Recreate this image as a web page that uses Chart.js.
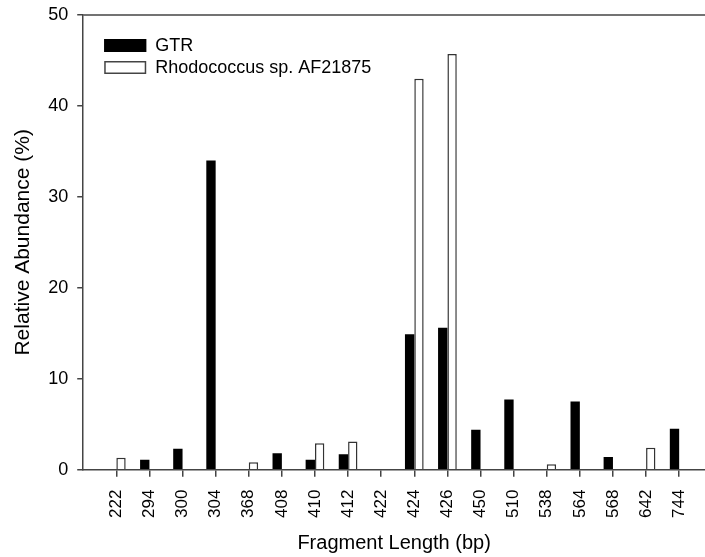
<!DOCTYPE html>
<html>
<head>
<meta charset="utf-8">
<script src="https://cdn.jsdelivr.net/npm/chart.js@4/dist/chart.umd.min.js"></script>
<style>
  html, body { margin: 0; padding: 0; background: #fff; }
  #wrap { width: 705px; height: 557px; }
</style>
</head>
<body>
<div id="wrap"><canvas id="bars" width="705" height="557"></canvas></div>
<script>
// fragment lengths (bp) on the x axis
var categories = ['222', '294', '300', '304', '368', '408', '410', '412', '422',
                  '424', '426', '450', '510', '538', '564', '568', '642', '744'];
// relative abundance (%)
var gtr   = [0, 1.1, 2.3, 34.0, 0, 1.8, 1.1, 1.7, 0, 14.9, 15.6, 4.4, 7.7, 0, 7.5, 1.4, 0, 4.5];
var rhodo = [1.3, 0, 0, 0, 0.8, 0, 2.9, 3.1, 0, 43.0, 45.7, 0, 0, 0.6, 0, 0, 2.4, 0];
var yTicks = [0, 10, 20, 30, 40, 50];

var axisColor = '#444';
var font = 'Liberation Sans';

// bars sit on a numeric axis so the first tick can be one slot from the y axis
function points(values) {
    return values.map(function (v, i) { return { x: i + 1, y: v }; });
}

// legend + top frame line
var extras = {
    id: 'extras',
    afterDraw: function (chart) {
        var ctx = chart.ctx, area = chart.chartArea;
        ctx.save();
        ctx.strokeStyle = axisColor;
        ctx.lineWidth = 1.5;
        ctx.beginPath();
        ctx.moveTo(area.left, area.top);
        ctx.lineTo(area.right, area.top);
        ctx.stroke();

        ctx.font = '18px "' + font + '"';
        ctx.textBaseline = 'middle';
        chart.data.datasets.forEach(function (ds, i) {
            var x = area.left + 21, y = area.top + 24 + i * 22;
            ctx.fillStyle = ds.backgroundColor;
            ctx.fillRect(x, y, 42, 13);
            ctx.strokeStyle = ds.legendBorder;
            ctx.lineWidth = 1.5;
            ctx.strokeRect(x + 0.75, y + 0.75, 40.5, 11.5);
            ctx.fillStyle = '#000';
            ctx.fillText(ds.label, x + 51, y + 7);
        });
        ctx.restore();
    }
};

new Chart(document.getElementById('bars').getContext('2d'), {
    type: 'bar',
    data: {
        datasets: [{
            label: 'GTR',
            data: points(gtr),
            backgroundColor: '#000',
            borderColor: '#000',
            legendBorder: '#000',
            borderWidth: 0
        }, {
            label: 'Rhodococcus sp. AF21875',
            data: points(rhodo),
            backgroundColor: '#fff',
            borderColor: '#333',
            legendBorder: '#444',
            borderWidth: 1.5
        }]
    },
    options: {
        responsive: false,
        animation: false,
        barPercentage: 1,
        categoryPercentage: 0.565,
        layout: { padding: { left: 11, top: 15, right: 0, bottom: 2 } },
        plugins: {
            legend: { display: false },
            tooltip: { enabled: false }
        },
        scales: {
            x: {
                type: 'linear',
                position: 'bottom',
                offset: false,
                min: 0,
                max: 18.78,
                afterBuildTicks: function (scale) {
                    scale.ticks = categories.map(function (c, i) { return { value: i + 1 }; });
                },
                afterFit: function (scale) {
                    scale.paddingLeft = 0;
                    scale.paddingRight = 0;
                },
                ticks: {
                    autoSkip: false,
                    minRotation: 90,
                    maxRotation: 90,
                    padding: 13,
                    color: '#000',
                    font: { family: font, size: 17 },
                    callback: function (value) { return categories[value - 1]; }
                },
                grid: { offset: false, drawOnChartArea: false, tickLength: 7, color: axisColor, lineWidth: 1.5 },
                border: { color: axisColor, width: 1.5 },
                title: {
                    display: true,
                    text: 'Fragment Length (bp)',
                    color: '#000',
                    font: { family: font, size: 20 },
                    padding: { top: 0, bottom: 0 }
                }
            },
            y: {
                min: 0,
                max: 50,
                afterBuildTicks: function (scale) {
                    scale.ticks = yTicks.map(function (v) { return { value: v }; });
                },
                afterFit: function (scale) {
                    scale.paddingTop = 0;
                },
                ticks: {
                    padding: 9,
                    color: '#000',
                    font: { family: font, size: 18 }
                },
                grid: { drawOnChartArea: false, tickLength: 6, color: axisColor, lineWidth: 1.5 },
                border: { color: axisColor, width: 1.5 },
                title: {
                    display: true,
                    text: 'Relative Abundance (%)',
                    color: '#000',
                    font: { family: font, size: 21 },
                    padding: { top: 0, bottom: 3 }
                }
            }
        }
    },
    plugins: [extras]
});
</script>
</body>
</html>
